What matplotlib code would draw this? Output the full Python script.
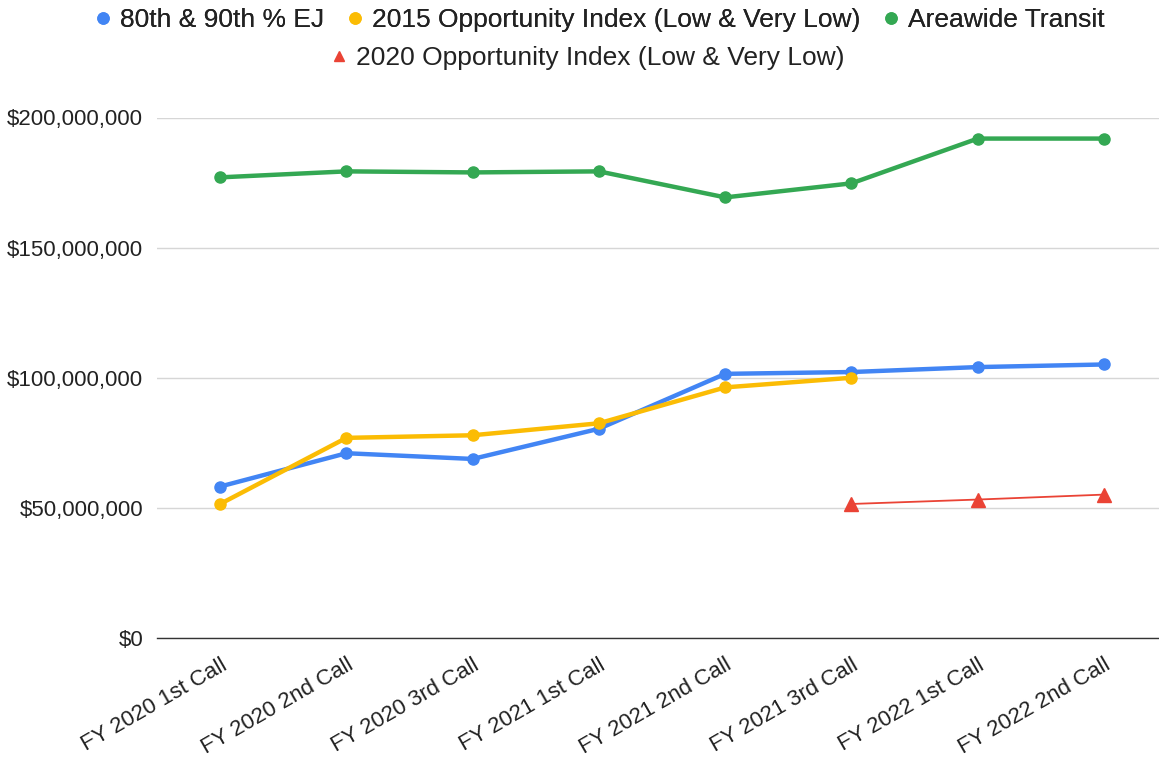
import numpy as np
import matplotlib.pyplot as plt
from matplotlib.lines import Line2D
from matplotlib.ticker import FuncFormatter

plt.rcParams['font.family'] = ['Liberation Sans', 'DejaVu Sans']

calls = ["FY 2020 1st Call", "FY 2020 2nd Call", "FY 2020 3rd Call",
         "FY 2021 1st Call", "FY 2021 2nd Call", "FY 2021 3rd Call",
         "FY 2022 1st Call", "FY 2022 2nd Call"]

# values in dollars
ej = [58.2e6, 71.0e6, 68.8e6, 80.4e6, 101.5e6, 102.2e6, 104.1e6, 105.1e6]
opp2015 = [51.5e6, 76.9e6, 77.9e6, 82.5e6, 96.3e6, 100.0e6, np.nan, np.nan]
areawide = [177.0e6, 179.3e6, 178.9e6, 179.3e6, 169.3e6, 174.7e6, 191.9e6, 191.9e6]
opp2020 = [np.nan, np.nan, np.nan, np.nan, np.nan, 51.5e6, 53.2e6, 55.1e6]

blue = "#4285F4"
yellow = "#FBBC04"
green = "#34A853"
red = "#EA4335"

W, H = 1159, 757
fig = plt.figure(figsize=(W / 100, H / 100), dpi=100)
left, right, top, bottom = 157, 1159, 117.5, 638
ax = fig.add_axes([left / W, (H - bottom) / H, (right - left) / W, (bottom - top) / H])

x = np.arange(len(calls))
ax.plot(x, areawide, color=green, lw=3.2, marker="o", ms=8, clip_on=False, zorder=3)
ax.plot(x, ej, color=blue, lw=3.2, marker="o", ms=8, clip_on=False, zorder=3)
ax.plot(x, opp2015, color=yellow, lw=3.2, marker="o", ms=8, clip_on=False, zorder=4)
ax.plot(x, opp2020, color=red, lw=1.3, marker="^", ms=10, clip_on=False, zorder=4)

ax.set_xlim(-0.5, 7 + 55 / 126.3)
ax.set_ylim(0, 200e6)
ax.set_yticks([0, 50e6, 100e6, 150e6, 200e6])
ax.yaxis.set_major_formatter(FuncFormatter(lambda v, p: "${:,.0f}".format(v)))
ax.grid(axis="y", color="#d6d6d6", lw=1)
ax.set_axisbelow(True)
for s in ["top", "right", "left"]:
    ax.spines[s].set_visible(False)
ax.spines["bottom"].set_color("#333333")
ax.spines["bottom"].set_linewidth(1)
ax.tick_params(axis="both", length=0, labelsize=16, colors="#222222")
ax.tick_params(axis="y", pad=10)
ax.set_xticks(x)
ax.set_xticklabels(calls, rotation=30, ha="right", va="top", rotation_mode="anchor")
ax.tick_params(axis="x", pad=12)

h1 = [Line2D([], [], ls="", marker="o", ms=8, color=c) for c in (blue, yellow, green)]
leg1 = fig.legend(h1, ["80th & 90th % EJ", "2015 Opportunity Index (Low & Very Low)", "Areawide Transit"],
                  loc="center", bbox_to_anchor=(0.518, 1 - 20 / H), ncol=3, frameon=False,
                  fontsize=19, handlelength=0.5, handletextpad=0.4, columnspacing=0.9)
h2 = [Line2D([], [], ls="", marker="^", ms=6.5, color=red)]
leg2 = fig.legend(h2, ["2020 Opportunity Index (Low & Very Low)"],
                  loc="center", bbox_to_anchor=(0.508, 1 - 58 / H), frameon=False,
                  fontsize=19, handlelength=0.5, handletextpad=0.4)
for leg in (leg1, leg2):
    for t in leg.get_texts():
        t.set_color("#222222")
fig.add_artist(leg1)

fig.savefig("out.png", dpi=100)
